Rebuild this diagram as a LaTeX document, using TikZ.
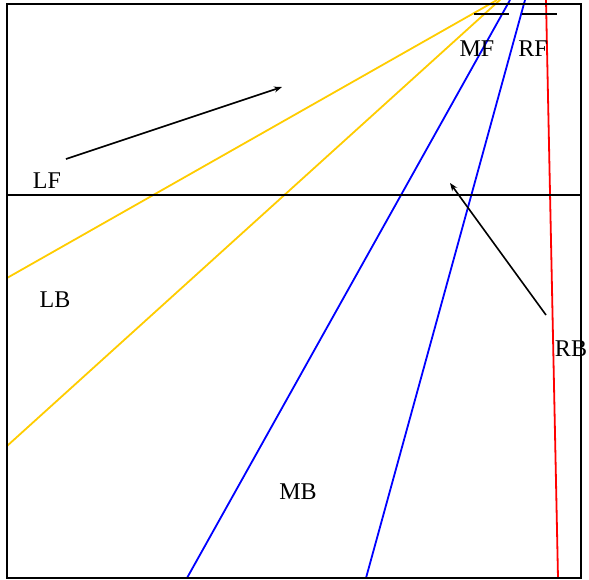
\documentclass[tikz,border=0pt]{standalone}
\usepackage{fontspec}
\setmainfont{Liberation Serif}
\usetikzlibrary{arrows.meta}
\definecolor{yel}{RGB}{255,204,0}
\begin{document}
\begin{tikzpicture}[x=1pt,y=-1pt,
  frame/.style={black,line width=2pt},
  ray/.style={line width=1.8pt},
  pointer/.style={black,line width=1.6pt,-{Stealth[length=8pt,width=6pt]}},
  lbl/.style={font=\fontsize{24}{27}\selectfont,inner sep=0pt}]
\useasboundingbox (0,0) rectangle (589,579);
\begin{scope}
\clip (0,0) rectangle (589,579);
% rays
\coordinate (y1a) at (7,278); \coordinate (y1b) at (497,0);
\coordinate (y2a) at (7,446); \coordinate (y2b) at (501,-1);
\coordinate (b1a) at (187,578); \coordinate (b1b) at (510,0);
\coordinate (b2a) at (366,578); \coordinate (b2b) at (525,0);
\coordinate (r1a) at (546,0); \coordinate (r1b) at (558,578);
\draw[ray,yel] (y1a) -- (y1b);
\draw[ray,yel] (y2a) -- (y2b);
\draw[ray,blue] (b1a) -- (b1b);
\draw[ray,blue] (b2a) -- (b2b);
\draw[ray,red] (r1a) -- (r1b);
\end{scope}
% frame
\coordinate (tl) at (7,4); \coordinate (br) at (581,578);
\draw[frame] (tl) rectangle (br);
\coordinate (hl) at (7,195); \coordinate (hr) at (581,195);
\draw[frame] (hl) -- (hr);
\coordinate (s1a) at (474,14); \coordinate (s1b) at (509,14);
\coordinate (s2a) at (522,14); \coordinate (s2b) at (557,14);
\draw[frame] (s1a) -- (s1b);
\draw[frame] (s2a) -- (s2b);
% labels
\node[lbl] (LF) at (47,181) {LF};
\node[lbl] (LB) at (55,300) {LB};
\node[lbl] (MF) at (477,49) {MF};
\node[lbl] (RF) at (533,49) {RF};
\node[lbl] (RB) at (571,349) {RB};
\node[lbl] (MB) at (298,492) {MB};
% pointers
\coordinate (p1a) at (66,159); \coordinate (p1b) at (282,87);
\coordinate (p2a) at (546,315); \coordinate (p2b) at (450,183);
\draw[pointer] (p1a) -- (p1b);
\draw[pointer] (p2a) -- (p2b);
\end{tikzpicture}
\end{document}
